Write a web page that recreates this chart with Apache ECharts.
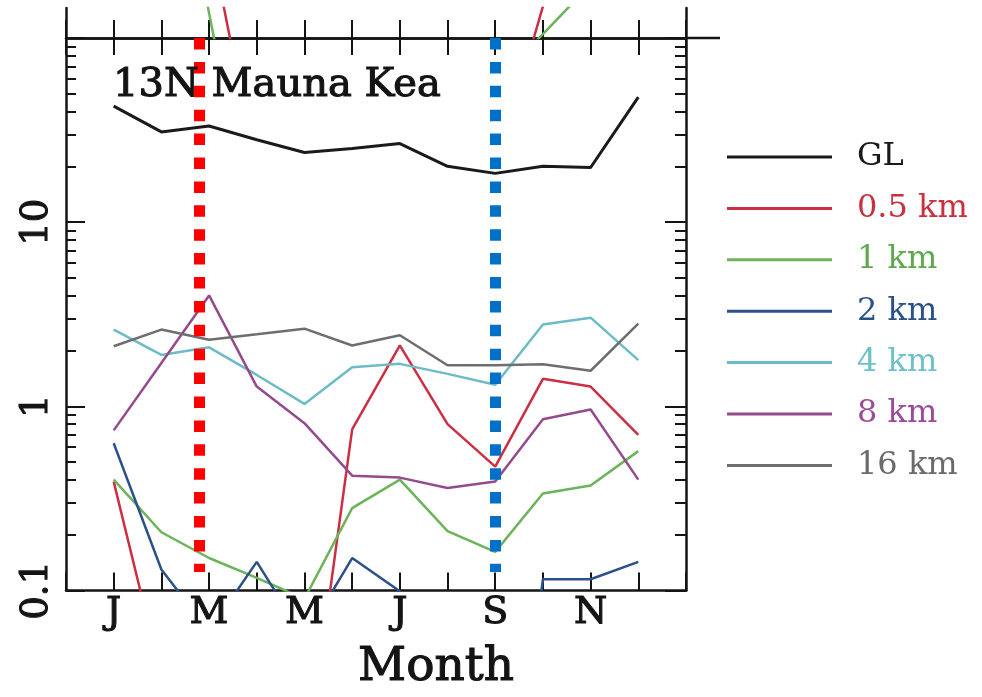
<!DOCTYPE html>
<html>
<head>
<meta charset="utf-8">
<script src="https://cdn.jsdelivr.net/npm/echarts@6/dist/echarts.min.js"></script>
<style>
  html, body { margin: 0; padding: 0; background: #ffffff; }
  #chart { width: 982px; height: 697px; }
</style>
</head>
<body>
<div id="chart"></div>
<script>
// Monthly values, Jan..Dec
const months = [1, 2, 3, 4, 5, 6, 7, 8, 9, 10, 11, 12];
const monthTickLabels = ['', 'J', '', 'M', '', 'M', '', 'J', '', 'S', '', 'N', '', ''];

// Log-axis ticks
const yMajorTicks = [0.1, 1, 10, 100];
const yMinorTicks = [0.2, 0.3, 0.4, 0.5, 0.6, 0.7, 0.8, 0.9,
                     2, 3, 4, 5, 6, 7, 8, 9,
                     20, 30, 40, 50, 60, 70, 80, 90];
const yTickLabels = [0.1, 1, 10];

// Series (13N Mauna Kea)
const seriesNames = ['GL', '0.5 km', '1 km', '2 km', '4 km', '8 km', '16 km'];
const glValues    = [42.7, 30.9, 33.3, 28.0, 23.9, 25.1, 26.7, 20.1, 18.4, 20.1, 19.8, 47.7];
const km05Values  = [0.39, 0.034, 0.02, 0.015, 0.0095, 0.75, 2.14, 0.80, 0.47, 1.41, 1.28, 0.70];
const km1Values   = [0.40, 0.207, 0.150, 0.117, 0.09, 0.28, 0.40, 0.21, 0.162, 0.336, 0.371, 0.571];
const km2Values   = [0.63, 0.13, 0.06, 0.143, 0.055, 0.15, 0.099, 0.001, 0.001, 0.115, 0.115, 0.143];
const km4Values   = [2.61, 1.90, 2.09, 1.48, 1.03, 1.63, 1.70, 1.50, 1.31, 2.78, 3.03, 1.78];
const km8Values   = [0.74, 1.72, 4.0, 1.28, 0.81, 0.42, 0.41, 0.36, 0.39, 0.85, 0.96, 0.40];
const km16Values  = [2.12, 2.61, 2.30, 2.46, 2.64, 2.14, 2.43, 1.67, 1.67, 1.69, 1.56, 2.81];

// Panel above (only its lowest strip is in view)
const upperKm05Values = [1.2, 0.8, 0.366, 0.0189, 0.01, 0.008, 0.01, 0.012, 0.019, 0.148, 1.0, 1.5];
const upperKm1Values  = [3.0, 2.7, 0.136, 0.007, 0.005, 0.006, 0.01, 0.02, 0.058, 0.105, 0.194, 0.4];

// Highlighted months (dotted verticals)
const markerMonths = [2.8, 9.0];
const markerSpan = [100, 0.126];

const seriesColors = ['#1a1a1a', '#cc2f42', '#6cb35a', '#2b5288', '#6cbcc6', '#944a8c', '#6e6e6e'];
const labelColors  = ['#1a1a1a', '#c8323c', '#5fa84e', '#2b5288', '#6fc0c8', '#9a4c98', '#6a6a6a'];
const markerColors = ['#ff0000', '#0070c8'];

const FONT = 'DejaVu Serif';
const INK = '#141414';
// slight outline in the ink colour to give the serif labels more weight
const heavy = { textBorderColor: INK, textBorderWidth: 1.1 };

const allValues = [glValues, km05Values, km1Values, km2Values, km4Values, km8Values, km16Values];
const pairs = vals => months.map((m, i) => [m, vals[i]]);

const mainSeries = seriesNames.map((name, k) => ({
  name: name,
  type: 'line',
  xAxisIndex: 0,
  yAxisIndex: 0,
  symbol: 'none',
  color: seriesColors[k],
  lineStyle: { color: seriesColors[k], width: k === 0 ? 3 : 2.5 },
  data: pairs(allValues[k]),
  z: k === 0 ? 3 : 2
}));

const upperSeries = [
  { name: '0.5 km', vals: upperKm05Values, color: seriesColors[1] },
  { name: '1 km', vals: upperKm1Values, color: seriesColors[2] }
].map(s => ({
  name: s.name,
  type: 'line',
  xAxisIndex: 2,
  yAxisIndex: 4,
  symbol: 'none',
  color: s.color,
  lineStyle: { color: s.color, width: 2.5 },
  data: pairs(s.vals)
}));

const markerSeries = {
  type: 'line',
  xAxisIndex: 0,
  yAxisIndex: 0,
  data: [],
  z: 10,
  markLine: {
    silent: true,
    symbol: ['none', 'none'],
    label: { show: false },
    animation: false,
    data: markerMonths.map((m, i) => [
      { coord: [m, markerSpan[0]], lineStyle: { color: markerColors[i], width: 11, type: [11.5, 12.4], cap: 'butt' } },
      { coord: [m, markerSpan[1]] }
    ])
  }
};

const axisLineStyle = { color: INK, width: 2.5 };
const tickStyle = { color: INK, width: 2 };

const chart = echarts.init(document.getElementById('chart'), null, { renderer: 'canvas' });
chart.setOption({
  animation: false,
  backgroundColor: '#ffffff',
  title: {
    text: '13N Mauna Kea',
    left: 108,
    top: 61,
    textStyle: Object.assign({ fontFamily: FONT, fontSize: 40, fontWeight: 'normal', color: INK }, heavy)
  },
  legend: {
    orient: 'vertical',
    left: 722,
    top: 134,
    itemWidth: 105,
    itemHeight: 3,
    itemGap: 15.4,
    icon: 'rect',
    selectedMode: false,
    data: seriesNames.map((n, k) => ({ name: n, textStyle: { color: labelColors[k] } })),
    textStyle: { fontFamily: FONT, fontSize: 32, lineHeight: 36, padding: [0, 0, 0, 20] }
  },
  grid: [
    { left: 66, top: 38, width: 620, height: 558 },
    { left: 66, top: 8, width: 620, height: 30 }
  ],
  xAxis: [
    {
      gridIndex: 0, type: 'value', position: 'bottom',
      min: 0, max: 13, interval: 1,
      axisLine: { show: true, lineStyle: axisLineStyle },
      axisTick: { show: true, inside: true, length: 18, lineStyle: tickStyle },
      axisLabel: Object.assign({
        interval: 0, margin: 4, color: INK, fontFamily: FONT, fontSize: 38,
        formatter: v => monthTickLabels[v] || ''
      }, heavy),
      splitLine: { show: false },
      name: 'Month', nameLocation: 'middle', nameGap: 54,
      nameTextStyle: Object.assign({ fontFamily: FONT, fontSize: 47, color: INK, padding: [0, 0, 0, 120] }, heavy)
    },
    {
      gridIndex: 0, type: 'value', position: 'top',
      min: 0, max: 13, interval: 1,
      axisLine: { show: true, lineStyle: axisLineStyle },
      axisTick: { show: true, inside: true, length: 17, lineStyle: tickStyle },
      axisLabel: { show: false },
      splitLine: { show: false }
    },
    {
      gridIndex: 1, type: 'value', position: 'bottom',
      min: 0, max: 13, interval: 1,
      axisLine: { show: true, lineStyle: axisLineStyle },
      axisTick: { show: true, inside: true, length: 18, lineStyle: tickStyle },
      axisLabel: { show: false },
      splitLine: { show: false }
    }
  ],
  yAxis: [
    {
      gridIndex: 0, type: 'log', logBase: 10, min: 0.1, max: 100, position: 'left',
      axisLine: { show: true, lineStyle: axisLineStyle },
      axisTick: { show: true, inside: true, length: 19, lineStyle: tickStyle, customValues: yMajorTicks },
      axisLabel: Object.assign({
        customValues: yTickLabels, rotate: 90, margin: 10,
        color: INK, fontFamily: FONT, fontSize: 37,
        formatter: v => String(v)
      }, heavy),
      splitLine: { show: false }
    },
    {
      gridIndex: 0, type: 'log', logBase: 10, min: 0.1, max: 100, position: 'left',
      axisLine: { show: false },
      axisTick: { show: true, inside: true, length: 10, lineStyle: tickStyle, customValues: yMinorTicks },
      axisLabel: { show: false },
      splitLine: { show: false }
    },
    {
      gridIndex: 0, type: 'log', logBase: 10, min: 0.1, max: 100, position: 'right',
      axisLine: { show: true, lineStyle: axisLineStyle },
      axisTick: { show: true, inside: true, length: 21, lineStyle: tickStyle, customValues: yMajorTicks },
      axisLabel: { show: false },
      splitLine: { show: false }
    },
    {
      gridIndex: 0, type: 'log', logBase: 10, min: 0.1, max: 100, position: 'right',
      axisLine: { show: false },
      axisTick: { show: true, inside: true, length: 11, lineStyle: tickStyle, customValues: yMinorTicks },
      axisLabel: { show: false },
      splitLine: { show: false }
    },
    {
      gridIndex: 1, type: 'log', logBase: 10, min: 0.1, max: 0.1449, position: 'left',
      axisLine: { show: true, lineStyle: axisLineStyle },
      axisTick: { show: false }, axisLabel: { show: false }, splitLine: { show: false }
    },
    {
      gridIndex: 1, type: 'log', logBase: 10, min: 0.1, max: 0.1449, position: 'right',
      axisLine: { show: true, lineStyle: axisLineStyle },
      axisTick: { show: false }, axisLabel: { show: false }, splitLine: { show: false }
    }
  ],
  graphic: [
    {
      type: 'line',
      shape: { x1: 686, y1: 38, x2: 720, y2: 38 },
      style: { stroke: INK, lineWidth: 2.5 }
    }
  ],
  series: [...mainSeries, ...upperSeries, markerSeries]
});
</script>
</body>
</html>
